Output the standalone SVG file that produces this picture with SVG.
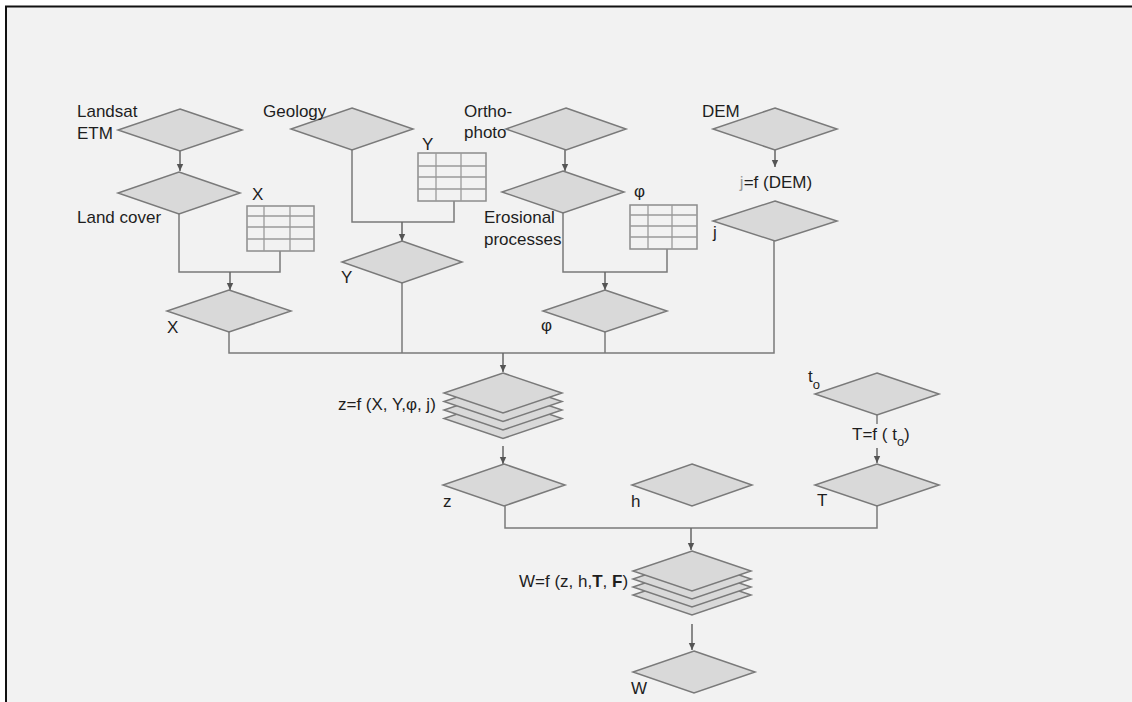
<svg xmlns="http://www.w3.org/2000/svg" width="1132" height="702" viewBox="0 0 1132 702">
<style>
.d{fill:#d9d9d9;stroke:#7a7a7a;stroke-width:1.5;stroke-linejoin:miter}
.c{fill:none;stroke:#7a7a7a;stroke-width:1.5}
.a{fill:none;stroke:#666;stroke-width:1.5;marker-end:url(#ah)}
.tb rect{fill:#f2f2f2;stroke:#8c8c8c;stroke-width:1.5}
.tb line{stroke:#9a9a9a;stroke-width:1.3}
text{font-family:"Liberation Sans",Arial,sans-serif;font-size:17px;fill:#1e1e1e}
</style>
<defs>
<marker id="ah" markerUnits="userSpaceOnUse" markerWidth="8" markerHeight="8" refX="7" refY="4" orient="auto">
<path d="M0,0.8 L7,4 L0,7.2 z" fill="#555"/>
</marker>
</defs>
<rect x="0" y="0" width="1132" height="702" fill="#ffffff"/>
<rect x="7" y="7" width="1125" height="695" fill="#f2f2f2"/>
<path d="M6,702 V6.5 H1132" fill="none" stroke="#111" stroke-width="2"/>

<g id="connectors">
<path class="a" d="M180,151 V171"/>
<path class="c" d="M179,214 V272 H280 V251"/>
<path class="a" d="M230,272 V290"/>
<path class="c" d="M352,150 V222 H454 V201"/>
<path class="a" d="M402,222 V241"/>
<path class="a" d="M565,150 V171"/>
<path class="c" d="M563,213 V272 H667 V249"/>
<path class="a" d="M605,272 V290"/>
<path class="a" d="M775,150 V167"/>
<path class="c" d="M229,332 V353 H774 V241"/>
<path class="c" d="M402,283 V353"/>
<path class="c" d="M605,332 V353"/>
<path class="a" d="M503,353 V372"/>
<path class="a" d="M503,446 V464"/>
<path class="c" d="M505,506 V528 H877 V506"/>
<path class="a" d="M691,528 V550"/>
<path class="c" d="M877,415 V424"/>
<path class="a" d="M877,448 V463"/>
<path class="a" d="M692,624 V650"/>
</g>

<g id="landsat">
<polygon class="d" points="180,109 242,130 180,151 118,130"/>
<text x="77" y="117">Landsat</text>
<text x="77" y="139">ETM</text>
</g>
<g id="geology">
<polygon class="d" points="352,108 413,129 352,150 291,129"/>
<text x="263" y="117">Geology</text>
</g>
<g id="orthophoto">
<polygon class="d" points="566,108 626,129 566,150 506,129"/>
<text x="464" y="117">Ortho-</text>
<text x="464" y="138">photo</text>
</g>
<g id="dem">
<polygon class="d" points="775,108 837,129 775,150 713,129"/>
<text x="702" y="117">DEM</text>
</g>
<g id="landcover">
<polygon class="d" points="179,172 240,193 179,214 118,193"/>
<text x="77" y="223">Land cover</text>
</g>
<g id="table-x" class="tb">
<rect x="247" y="206" width="67" height="45"/>
<line x1="264" y1="206" x2="264" y2="251"/>
<line x1="290" y1="206" x2="290" y2="251"/>
<line x1="247" y1="216" x2="314" y2="216"/>
<line x1="247" y1="227" x2="314" y2="227"/>
<line x1="247" y1="239" x2="314" y2="239"/>
<text x="252" y="200">X</text>
</g>
<g id="table-y" class="tb">
<rect x="418" y="153" width="68" height="48"/>
<line x1="436" y1="153" x2="436" y2="201"/>
<line x1="461" y1="153" x2="461" y2="201"/>
<line x1="418" y1="166" x2="486" y2="166"/>
<line x1="418" y1="177" x2="486" y2="177"/>
<line x1="418" y1="189" x2="486" y2="189"/>
<text x="422" y="150">Y</text>
</g>
<g id="erosional">
<polygon class="d" points="563,171 624,192 563,213 502,192"/>
<text x="484" y="223">Erosional</text>
<text x="484" y="245">processes</text>
</g>
<g id="table-phi" class="tb">
<rect x="630" y="205" width="67" height="44"/>
<line x1="648" y1="205" x2="648" y2="249"/>
<line x1="672" y1="205" x2="672" y2="249"/>
<line x1="630" y1="215" x2="697" y2="215"/>
<line x1="630" y1="226" x2="697" y2="226"/>
<line x1="630" y1="237" x2="697" y2="237"/>
<text x="634" y="197">φ</text>
</g>
<g id="j">
<text x="776" y="188" text-anchor="middle"><tspan fill="#9a9a9a">j</tspan>=f (DEM)</text>
<polygon class="d" points="775,201 837,221 775,241 713,221"/>
<text x="713" y="238">j</text>
</g>
<g id="x">
<polygon class="d" points="229,290 291,311 229,332 167,311"/>
<text x="167" y="333">X</text>
</g>
<g id="y">
<polygon class="d" points="402,241 462,262 402,283 342,262"/>
<text x="341" y="283">Y</text>
</g>
<g id="phi">
<polygon class="d" points="605,290 667,311 605,332 543,311"/>
<text x="541" y="331">φ</text>
</g>
<g id="z-stack">
<polygon class="d" points="503,398.5 562,418.5 503,438.5 444,418.5"/>
<polygon class="d" points="503,390 562,410 503,430 444,410"/>
<polygon class="d" points="503,381.5 562,401.5 503,421.5 444,401.5"/>
<polygon class="d" points="503,373 562,393 503,413 444,393"/>
<text x="338" y="410">z=f (X,  Y,φ, j)</text>
</g>
<g id="t0">
<polygon class="d" points="877,373 939,394 877,415 815,394"/>
<text x="808" y="382">t<tspan font-size="13" dy="7">o</tspan></text>
<text x="852" y="440">T=f ( t<tspan font-size="13" dy="6">o</tspan><tspan dy="-6">)</tspan></text>
</g>
<g id="z">
<polygon class="d" points="504,464 565,485 504,506 443,485"/>
<text x="443" y="507">z</text>
</g>
<g id="h">
<polygon class="d" points="692,464 752,485 692,506 632,485"/>
<text x="631" y="507">h</text>
</g>
<g id="T">
<polygon class="d" points="877,464 939,485 877,506 815,485"/>
<text x="817" y="506">T</text>
</g>
<g id="w-stack">
<polygon class="d" points="692,575 751,595 692,615 633,595"/>
<polygon class="d" points="692,567 751,587 692,607 633,587"/>
<polygon class="d" points="692,559 751,579 692,599 633,579"/>
<polygon class="d" points="692,551 751,571 692,591 633,571"/>
<text x="519" y="587">W=f (z, h,<tspan font-weight="bold">T</tspan>, <tspan font-weight="bold">F</tspan>)</text>
</g>
<g id="w">
<polygon class="d" points="694,651 755,672 694,693 633,672"/>
<text x="631" y="694">W</text>
</g>
</svg>
